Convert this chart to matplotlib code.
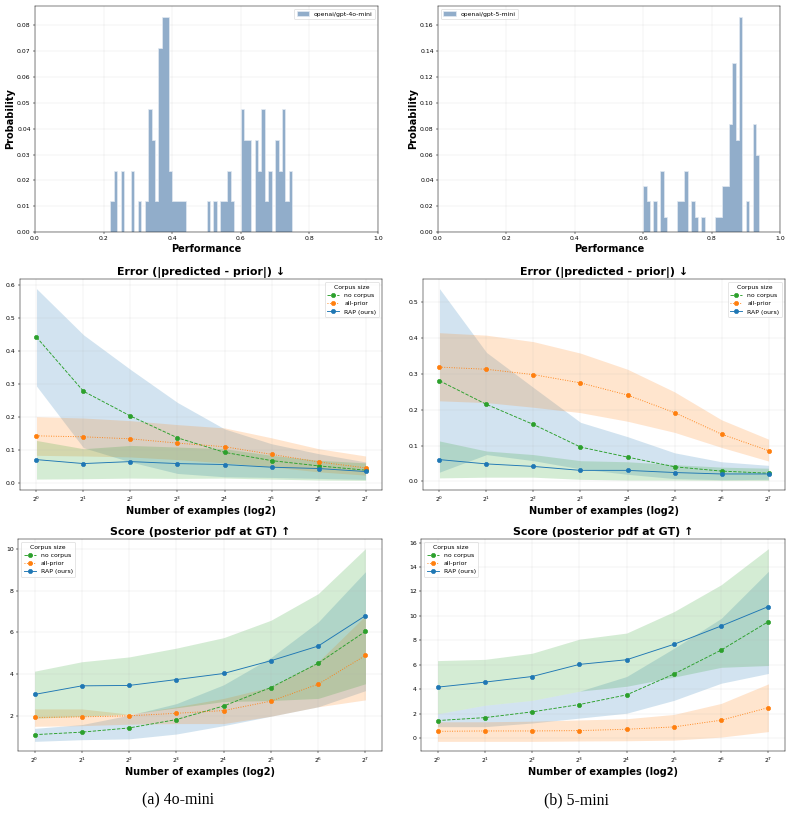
import numpy as np
import matplotlib
matplotlib.use('Agg')
import matplotlib.pyplot as plt

# histogram data: left edge of each 0.01-wide bin and how many runs fell in it
perf_4o = [0.22, 0.23, 0.25, 0.28, 0.30, 0.32, 0.33, 0.34, 0.35, 0.36, 0.37, 0.38, 0.39,
           0.40, 0.41, 0.42, 0.43, 0.50, 0.52, 0.54, 0.55, 0.56, 0.57, 0.60, 0.61, 0.62,
           0.64, 0.65, 0.66, 0.67, 0.68, 0.70, 0.71, 0.72, 0.73, 0.74]
count_4o = [1, 2, 2, 2, 1, 1, 4, 3, 1, 6, 7, 7, 2,
            1, 1, 1, 1, 1, 1, 1, 1, 2, 1, 4, 3, 3,
            3, 2, 4, 1, 2, 3, 2, 4, 1, 2]
perf_5 = [0.60, 0.61, 0.63, 0.65, 0.66, 0.70, 0.71, 0.72, 0.74, 0.75, 0.77, 0.81, 0.82,
          0.83, 0.84, 0.85, 0.86, 0.87, 0.88, 0.90, 0.92, 0.93]
count_5 = [3, 2, 2, 4, 1, 2, 2, 4, 2, 1, 1, 1, 1,
           3, 3, 7, 11, 6, 14, 2, 7, 5]

n_examples = [1, 2, 4, 8, 16, 32, 64, 128]

# error, 4o-mini
err4o_none = [0.443, 0.279, 0.204, 0.138, 0.094, 0.069, 0.053, 0.040]
err4o_none_lo = [0.295, 0.108, 0.065, 0.030, 0.020, 0.018, 0.015, 0.012]
err4o_none_hi = [0.590, 0.450, 0.345, 0.245, 0.165, 0.120, 0.090, 0.065]
err4o_prior = [0.144, 0.141, 0.135, 0.122, 0.111, 0.088, 0.065, 0.047]
err4o_prior_lo = [0.085, 0.083, 0.080, 0.072, 0.062, 0.050, 0.035, 0.025]
err4o_prior_hi = [0.202, 0.198, 0.190, 0.178, 0.168, 0.138, 0.105, 0.083]
err4o_rap = [0.072, 0.060, 0.066, 0.060, 0.057, 0.049, 0.045, 0.036]
err4o_rap_lo = [0.013, 0.014, 0.016, 0.015, 0.016, 0.013, 0.010, 0.009]
err4o_rap_hi = [0.130, 0.105, 0.115, 0.110, 0.105, 0.085, 0.070, 0.062]

# error, 5-mini
err5_none = [0.281, 0.215, 0.159, 0.096, 0.068, 0.041, 0.029, 0.023]
err5_none_lo = [0.026, 0.075, 0.058, 0.035, 0.020, 0.008, 0.005, 0.006]
err5_none_hi = [0.538, 0.360, 0.262, 0.165, 0.125, 0.080, 0.055, 0.045]
err5_prior = [0.319, 0.313, 0.298, 0.275, 0.241, 0.192, 0.132, 0.086]
err5_prior_lo = [0.225, 0.220, 0.207, 0.192, 0.168, 0.137, 0.095, 0.057]
err5_prior_hi = [0.415, 0.408, 0.390, 0.358, 0.313, 0.250, 0.172, 0.118]
err5_rap = [0.061, 0.049, 0.042, 0.031, 0.031, 0.025, 0.021, 0.021]
err5_rap_lo = [0.010, 0.012, 0.012, 0.006, 0.004, 0.004, 0.003, 0.003]
err5_rap_hi = [0.113, 0.085, 0.075, 0.058, 0.055, 0.047, 0.040, 0.037]

# score, 4o-mini
sc4o_none = [1.12, 1.24, 1.44, 1.84, 2.49, 3.37, 4.53, 6.05]
sc4o_none_lo = [0.80, 0.88, 0.92, 1.15, 1.55, 2.00, 2.45, 3.22]
sc4o_none_hi = [1.42, 1.60, 2.05, 2.60, 3.50, 4.80, 6.50, 8.90]
sc4o_prior = [1.94, 1.97, 2.02, 2.14, 2.27, 2.72, 3.53, 4.90]
sc4o_prior_lo = [1.52, 1.55, 1.62, 1.65, 1.65, 2.00, 2.45, 2.78]
sc4o_prior_hi = [2.35, 2.35, 2.10, 2.45, 2.85, 3.40, 4.60, 6.80]
sc4o_rap = [3.04, 3.45, 3.47, 3.75, 4.04, 4.65, 5.35, 6.80]
sc4o_rap_lo = [1.90, 2.00, 2.10, 2.40, 2.70, 2.75, 2.85, 3.55]
sc4o_rap_hi = [4.15, 4.60, 4.83, 5.25, 5.75, 6.58, 7.85, 10.0]

# score, 5-mini
sc5_none = [1.45, 1.69, 2.16, 2.76, 3.55, 5.25, 7.21, 9.54]
sc5_none_lo = [0.95, 0.95, 1.25, 1.65, 2.05, 3.10, 4.50, 5.30]
sc5_none_hi = [2.00, 2.70, 3.10, 3.85, 5.05, 7.35, 9.80, 13.65]
sc5_prior = [0.57, 0.60, 0.60, 0.63, 0.74, 0.93, 1.48, 2.51]
sc5_prior_lo = [-0.25, -0.25, -0.25, -0.22, -0.20, -0.15, 0.10, 0.55]
sc5_prior_hi = [1.35, 1.35, 1.40, 1.50, 1.60, 1.95, 2.85, 4.45]
sc5_rap = [4.18, 4.59, 5.05, 6.04, 6.42, 7.68, 9.18, 10.77]
sc5_rap_lo = [2.00, 2.70, 3.10, 3.85, 4.25, 5.00, 5.80, 5.95]
sc5_rap_hi = [6.35, 6.45, 6.95, 8.10, 8.60, 10.35, 12.55, 15.50]

DPI = 44
fig = plt.figure(figsize=(792 / DPI, 815 / DPI), dpi=DPI)


def hist_panel(rect, starts, counts, label, loc):
    ax = fig.add_axes(rect)
    total = sum(counts)
    weights = [c / total for c in counts]
    centers = [s + 0.005 for s in starts]
    ax.hist(centers, bins=np.linspace(0, 1, 101), weights=weights,
            histtype='stepfilled', facecolor='#91adca', edgecolor='#e2e9f1',
            linewidth=1.2, label=label)
    ax.set_xlim(0, 1)
    ax.set_axisbelow(True)
    ax.grid(alpha=0.3)
    ax.set_xlabel('Performance', fontsize=16, fontweight='bold')
    ax.set_ylabel('Probability', fontsize=16, fontweight='bold')
    ax.tick_params(labelsize=10)
    ax.legend(loc=loc, fontsize=10)
    return ax


def curve_panel(rect, title, none, prior, rap, loc):
    ax = fig.add_axes(rect)
    ax.fill_between(n_examples, none[1], none[2], color='tab:blue', alpha=0.2, linewidth=0)
    ax.fill_between(n_examples, prior[1], prior[2], color='tab:orange', alpha=0.2, linewidth=0)
    ax.fill_between(n_examples, rap[1], rap[2], color='tab:green', alpha=0.2, linewidth=0)
    ax.plot(n_examples, none[0], color='tab:green', linestyle='--', marker='o', ms=7, label='no corpus')
    ax.plot(n_examples, prior[0], color='tab:orange', linestyle=':', marker='o', ms=7, label='all-prior')
    ax.plot(n_examples, rap[0], color='tab:blue', linestyle='-', marker='o', ms=7, label='RAP (ours)')
    ax.set_xscale('log', base=2)
    ax.set_xticks(n_examples)
    ax.grid(alpha=0.3)
    ax.set_title(title, fontsize=18, fontweight='bold')
    ax.set_xlabel('Number of examples (log2)', fontsize=16, fontweight='bold')
    ax.tick_params(labelsize=10)
    ax.legend(title='Corpus size', loc=loc, fontsize=10, title_fontsize=10)
    return ax


W, H = 792.0, 815.0


def px_rect(left, top, right, bottom):
    return [left / W, 1 - bottom / H, (right - left) / W, (bottom - top) / H]


hist_panel(px_rect(35, 6, 378, 232), perf_4o, count_4o, 'openai/gpt-4o-mini', 'upper right')
hist_panel(px_rect(438, 6, 780, 232), perf_5, count_5, 'openai/gpt-5-mini', 'upper left')

err_title = 'Error (|predicted - prior|) \u2193'
score_title = 'Score (posterior pdf at GT) \u2191'

curve_panel(px_rect(20, 279, 382, 490), err_title,
            (err4o_none, err4o_none_lo, err4o_none_hi),
            (err4o_prior, err4o_prior_lo, err4o_prior_hi),
            (err4o_rap, err4o_rap_lo, err4o_rap_hi), 'upper right')
curve_panel(px_rect(423, 279, 785, 490), err_title,
            (err5_none, err5_none_lo, err5_none_hi),
            (err5_prior, err5_prior_lo, err5_prior_hi),
            (err5_rap, err5_rap_lo, err5_rap_hi), 'upper right')
curve_panel(px_rect(18, 539, 382, 751), score_title,
            (sc4o_none, sc4o_none_lo, sc4o_none_hi),
            (sc4o_prior, sc4o_prior_lo, sc4o_prior_hi),
            (sc4o_rap, sc4o_rap_lo, sc4o_rap_hi), 'upper left')
curve_panel(px_rect(421, 539, 785, 751), score_title,
            (sc5_none, sc5_none_lo, sc5_none_hi),
            (sc5_prior, sc5_prior_lo, sc5_prior_hi),
            (sc5_rap, sc5_rap_lo, sc5_rap_hi), 'upper left')

fig.text(178 / W, 1 - 800 / H, '(a) 4o-mini', family='Liberation Serif', fontsize=26,
         ha='center', va='center')
fig.text(576 / W, 1 - 800 / H, '(b) 5-mini', family='Liberation Serif', fontsize=26,
         ha='center', va='center')

fig.savefig('out.png', dpi=DPI)
